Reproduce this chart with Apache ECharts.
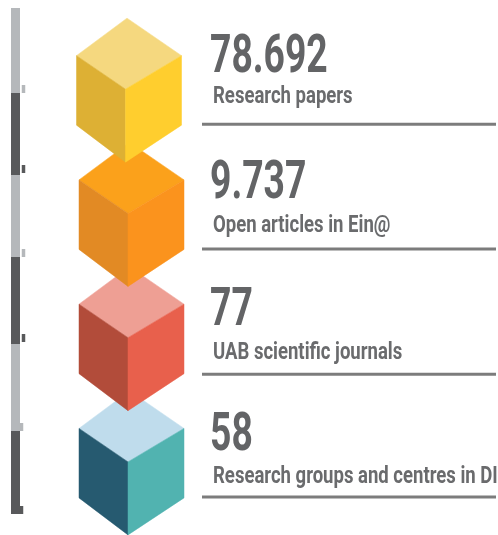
<!DOCTYPE html>
<html>
<head>
<meta charset="utf-8">
<style>
html, body { margin: 0; padding: 0; background: #fff; }
#main { width: 498px; height: 535px; }
</style>
<script src="https://cdn.jsdelivr.net/npm/echarts@6/dist/echarts.min.js"></script>
</head>
<body>
<div id="main"></div>
<script>
// figures shown next to each cube
var figures = ['78.692', '9.737', '77', '58'];
var captions = ['Research papers', 'Open articles in Ein@', 'UAB scientific journals', 'Research groups and centres in DI'];
var rows = ['papers', 'articles', 'journals', 'groups'];

// left stripe, segment lengths top to bottom
var stripeSegments = [85, 82, 82, 87, 87, 83];
var stripeColors = ['#b5b8bb', '#58595b'];

// top, left, right face of each cube
var topColors = ['#f5d87f', '#fba11b', '#ee9f94', '#bfdcec'];
var leftColors = ['#ddb034', '#e28a24', '#b24c3a', '#265a70'];
var rightColors = ['#ffce2e', '#fb931d', '#e8604c', '#51b3b0'];

// source image is a bit uneven, small per row nudges
var cubeNudge = [-2.5, 0, 0, 0];
var figureNudge = [-3, -1, 2, 3];
var captionNudge = [-3, 2, 4, 4];
var ruleNudge = [-0.5, 0, 1, -0.5];
var tickOffsets = [[8, -4], [8, -6], [8, -4], [8, -6], [6, -4], [6, -4]];

var myChart = echarts.init(document.getElementById('main'));

function renderCube(params, api) {
    var i = params.dataIndex;
    var c = api.coord([128, i]);
    var cx = c[0] + cubeNudge[i], cy = c[1];
    var l = cx - 49, r = cx + 56;
    var z = 10 - i;
    function face(points, fill) {
        return { type: 'polygon', z2: z, shape: { points: points }, style: { fill: fill, stroke: fill, lineWidth: 0.5 } };
    }
    return {
        type: 'group',
        children: [
            face([[cx + 1.5, cy - 71], [r, cy - 33.5], [cx, cy], [l, cy - 33.5]], topColors[i]),
            face([[l, cy - 33.5], [cx, cy], [cx, cy + 73], [l, cy + 36]], leftColors[i]),
            face([[r, cy - 33.5], [cx, cy], [cx, cy + 73], [r, cy + 36]], rightColors[i])
        ]
    };
}

function renderText(params, api) {
    var i = params.dataIndex;
    var c = api.coord([210, i]);
    var cy = c[1];
    return {
        type: 'group',
        children: [
            {
                type: 'text', x: c[0], y: cy - 55 + figureNudge[i], scaleX: 0.69,
                style: { text: figures[i], font: 'bold 54px Roboto', fill: '#636466' }
            },
            {
                type: 'text', x: c[0] + 3, y: cy - 1 + captionNudge[i], scaleX: 0.772,
                style: { text: captions[i], font: 'bold 24px Roboto', fill: '#6a6b6d' }
            },
            {
                type: 'rect',
                shape: { x: c[0] - 8, y: cy + 34 + ruleNudge[i], width: 294, height: 3 },
                style: { fill: '#7c7c7c' }
            }
        ]
    };
}

var stripeSeries = stripeSegments.map(function (v, i) {
    return {
        type: 'bar',
        stack: 'stripe',
        xAxisIndex: 0,
        yAxisIndex: 0,
        barWidth: '100%',
        silent: true,
        itemStyle: { color: stripeColors[i % 2] },
        data: [v]
    };
});

// little marks sitting at the end of every segment
var running = 0;
var stripeEnds = stripeSegments.map(function (v) {
    running += v;
    return running;
});

var option = {
    animation: false,
    backgroundColor: '#fff',
    grid: [
        { left: 11, top: 8, width: 9, height: 506 },
        { left: 0, right: 0, top: 27, height: 497 }
    ],
    xAxis: [
        { type: 'category', gridIndex: 0, data: ['stripe'], show: false },
        { type: 'value', gridIndex: 1, min: 0, max: 498, show: false }
    ],
    yAxis: [
        { type: 'value', gridIndex: 0, min: 0, max: 506, inverse: true, show: false },
        { type: 'category', gridIndex: 1, data: rows, inverse: true, show: false }
    ],
    series: stripeSeries.concat([
        {
            type: 'scatter',
            xAxisIndex: 0,
            yAxisIndex: 0,
            silent: true,
            symbol: 'rect',
            symbolSize: [3.5, 8],
            clip: false,
            itemStyle: {
                opacity: 1,
                color: function (p) { return stripeColors[p.dataIndex % 2]; }
            },
            data: stripeEnds.map(function (e, i) {
                return { value: ['stripe', e], symbolOffset: tickOffsets[i] };
            })
        },
        {
            type: 'custom',
            xAxisIndex: 1,
            yAxisIndex: 1,
            silent: true,
            clip: false,
            renderItem: renderCube,
            data: rows.map(function (r, i) { return [128, i]; })
        },
        {
            type: 'custom',
            xAxisIndex: 1,
            yAxisIndex: 1,
            silent: true,
            clip: false,
            renderItem: renderText,
            data: rows.map(function (r, i) { return [210, i]; })
        }
    ])
};

myChart.setOption(option);
</script>
</body>
</html>
